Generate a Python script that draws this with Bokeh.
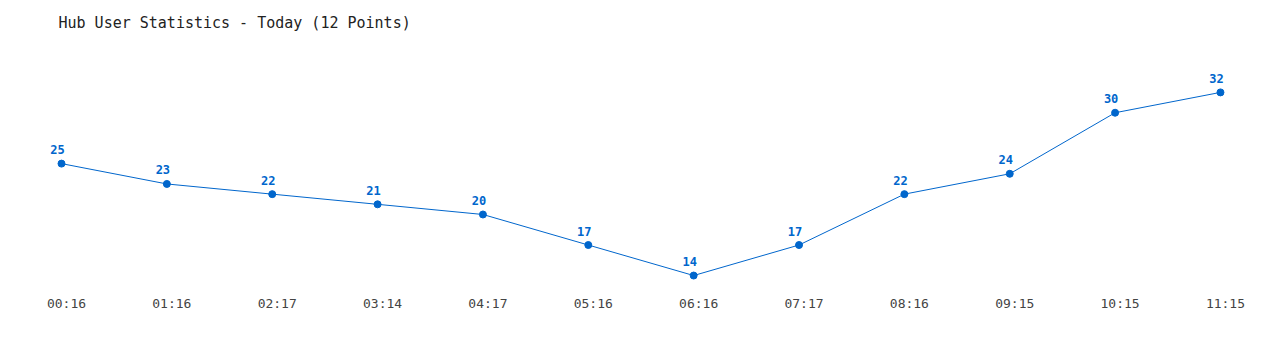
from bokeh.plotting import figure
from bokeh.models import ColumnDataSource, FixedTicker, Range1d, LinearAxis
from bokeh.core.properties import value
from bokeh.embed import file_html
from bokeh.resources import INLINE

times = ["00:16", "01:16", "02:17", "03:14", "04:17", "05:16",
         "06:16", "07:17", "08:16", "09:15", "10:15", "11:15"]
users = [25, 23, 22, 21, 20, 17, 14, 17, 22, 24, 30, 32]
title_text = "Hub User Statistics - Today (12 Points)"

idx = list(range(len(times)))
src = ColumnDataSource(dict(x=idx, y=users, lbl=[str(v) for v in users]))

BLUE = "#0066cc"
FONT = "DejaVu Sans Mono"

x0 = -61 / 105.36
x1 = (1280 - 61) / 105.36
p = figure(width=1280, height=350, output_backend="svg", toolbar_location=None,
           title=title_text, x_range=Range1d(x0, x1), y_range=Range1d(12.53, 37.1),
           x_axis_location=None, y_axis_location=None,
           min_border_left=0, min_border_right=0, min_border_top=40, min_border_bottom=60)
p.outline_line_color = None
p.xgrid.visible = False
p.ygrid.visible = False
p.background_fill_color = "white"
p.border_fill_color = "white"

p.title.text_font = FONT
p.title.text_font_size = "15px"
p.title.text_font_style = "normal"
p.title.text_color = "#222222"
p.title.align = "left"
p.title.offset = 58
p.title.standoff = 18

shift = 5 / 105.36
p.extra_x_ranges = {"lab": Range1d(x0 - shift, x1 - shift)}
ax = LinearAxis(x_range_name="lab", ticker=FixedTicker(ticks=idx),
                major_label_overrides={i: t for i, t in zip(idx, times)})
ax.axis_line_color = None
ax.major_tick_line_color = None
ax.minor_tick_line_color = None
ax.major_tick_out = 0
ax.major_tick_in = 0
ax.major_label_standoff = 5
ax.major_label_text_font = FONT
ax.major_label_text_font_size = "13px"
ax.major_label_text_color = "#444444"
p.add_layout(ax, "below")

p.line("x", "y", source=src, line_color=BLUE, line_width=1)
p.scatter("x", "y", source=src, size=7, fill_color=BLUE, line_color=BLUE)
p.text("x", "y", text="lbl", source=src, text_font=value(FONT), text_font_size="12px",
       text_font_style="bold", text_color=BLUE, text_align="center",
       text_baseline="alphabetic", x_offset=-4, y_offset=-14)

open("out.html", "w").write(file_html(p, INLINE))
